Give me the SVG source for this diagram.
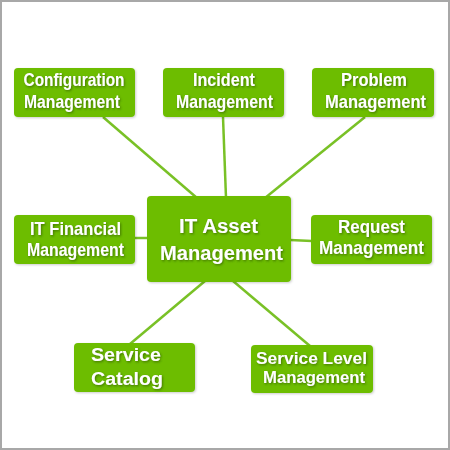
<svg xmlns="http://www.w3.org/2000/svg" width="450" height="450" viewBox="0 0 450 450">
<defs>
<filter id="sh" x="-20%" y="-20%" width="140%" height="140%">
<feDropShadow dx="1" dy="1.2" stdDeviation="1" flood-color="#2f5a00" flood-opacity="0.7"/>
</filter>
<filter id="bsh" x="-10%" y="-10%" width="130%" height="130%">
<feDropShadow dx="1" dy="1" stdDeviation="0.8" flood-color="#000" flood-opacity="0.2"/>
</filter>
</defs>
<style>
.box{fill:#6dbd00;filter:url(#bsh)}
.t{font-family:"Liberation Sans",Arial,sans-serif;font-weight:bold;fill:#fff;font-size:19px;text-anchor:middle;filter:url(#sh)}
.c{font-size:20px}
.sc{font-size:18px}
.sl{font-size:16px}
.ln{stroke:#79c126;stroke-width:2.5;fill:none}
</style>
<rect x="1" y="1" width="448" height="448" fill="#fff" stroke="#a8a8a8" stroke-width="2"/>
<g id="connectors">
<line class="ln" x1="103" y1="117" x2="197" y2="198"/>
<line class="ln" x1="223" y1="117" x2="226" y2="198"/>
<line class="ln" x1="365" y1="117" x2="265" y2="198"/>
<line class="ln" x1="135" y1="238" x2="148" y2="238"/>
<line class="ln" x1="290" y1="240" x2="312" y2="241"/>
<line class="ln" x1="130" y1="344" x2="205" y2="281"/>
<line class="ln" x1="310" y1="346" x2="233" y2="281"/>
</g>
<g id="config">
<rect class="box" x="14" y="68" width="121" height="49" rx="4"/>
<text class="t" x="74" y="86" textLength="101" lengthAdjust="spacingAndGlyphs">Configuration</text>
<text class="t" x="72" y="108" textLength="96" lengthAdjust="spacingAndGlyphs">Management</text>
</g>
<g id="incident">
<rect class="box" x="163" y="68" width="121" height="49" rx="4"/>
<text class="t" x="224" y="86" textLength="62" lengthAdjust="spacingAndGlyphs">Incident</text>
<text class="t" x="224.5" y="108" textLength="97" lengthAdjust="spacingAndGlyphs">Management</text>
</g>
<g id="problem">
<rect class="box" x="312" y="68" width="122" height="49" rx="4"/>
<text class="t" x="374" y="86" textLength="66" lengthAdjust="spacingAndGlyphs">Problem</text>
<text class="t" x="375.5" y="108" textLength="101" lengthAdjust="spacingAndGlyphs">Management</text>
</g>
<g id="financial">
<rect class="box" x="14" y="215" width="121" height="49" rx="4"/>
<text class="t" x="75.5" y="235" textLength="91" lengthAdjust="spacingAndGlyphs">IT Financial</text>
<text class="t" x="75.5" y="256" textLength="97" lengthAdjust="spacingAndGlyphs">Management</text>
</g>
<g id="center">
<rect class="box" x="147" y="196" width="144" height="86" rx="4"/>
<text class="t c" x="218.5" y="233" textLength="79" lengthAdjust="spacingAndGlyphs">IT Asset</text>
<text class="t c" x="221.5" y="260" textLength="123" lengthAdjust="spacingAndGlyphs">Management</text>
</g>
<g id="request">
<rect class="box" x="311" y="215" width="121" height="49" rx="4"/>
<text class="t" x="371.5" y="233" textLength="67" lengthAdjust="spacingAndGlyphs">Request</text>
<text class="t" x="371.5" y="254" textLength="105" lengthAdjust="spacingAndGlyphs">Management</text>
</g>
<g id="catalog">
<rect class="box" x="74" y="343" width="121" height="49" rx="4"/>
<text class="t sc" x="126" y="361" textLength="70" lengthAdjust="spacingAndGlyphs">Service</text>
<text class="t sc" x="127" y="385" textLength="72" lengthAdjust="spacingAndGlyphs">Catalog</text>
</g>
<g id="servicelevel">
<rect class="box" x="251" y="345" width="122" height="48" rx="4"/>
<text class="t sl" x="311.5" y="364" textLength="111" lengthAdjust="spacingAndGlyphs">Service Level</text>
<text class="t sl" x="314" y="383" textLength="102" lengthAdjust="spacingAndGlyphs">Management</text>
</g>
</svg>
